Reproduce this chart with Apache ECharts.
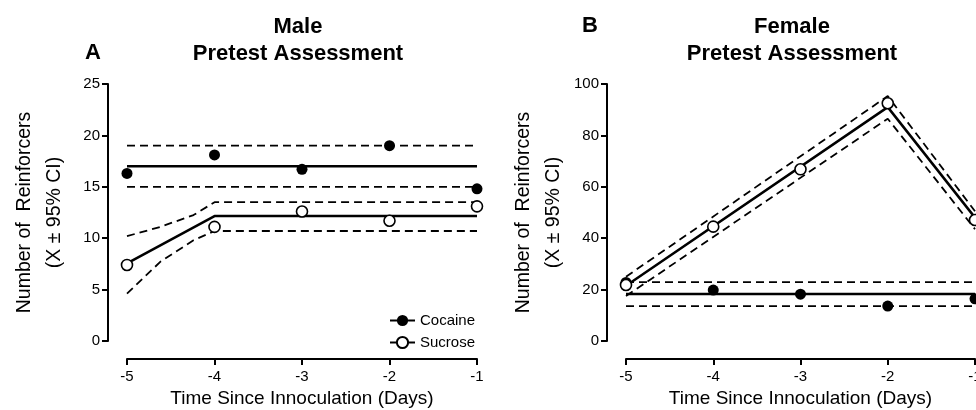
<!DOCTYPE html>
<html>
	<head>
		<meta charset="utf-8" />
		<title>Pretest Assessment</title>
		<style>
			html, body { margin: 0; padding: 0; background: #fff; }
			#chart { width: 976px; height: 410px; }
		</style>
	</head>
	<body>
		<div id="chart"></div>
		<script src="https://cdn.jsdelivr.net/npm/echarts@6/dist/echarts.min.js"></script>
		<script>
			// days before innoculation
			var days = [-5, -4, -3, -2, -1];

			// male panel (A)
			var maleCocaine = [16.3, 18.1, 16.7, 19.0, 14.8];
			var maleSucrose = [7.4, 11.1, 12.6, 11.7, 13.1];
			var maleCocaineFit = [15.0, 17.0, 19.0]; // lower, mean, upper
			var maleSucFitX = [-5, -4, -1];
			var maleSucFitY = [7.55, 12.15, 12.15];
			var maleSucHiX = [-5, -4.62, -4.24, -4, -1];
			var maleSucHiY = [10.2, 11.1, 12.25, 13.5, 13.5];
			var maleSucLoX = [-5, -4.62, -4.24, -4, -1];
			var maleSucLoY = [4.6, 7.7, 9.8, 10.7, 10.7];

			// female panel (B)
			var femCocaine = [22.8, 19.8, 18.2, 13.6, 16.4];
			var femSucrose = [21.8, 44.5, 66.8, 92.5, 47.1];
			var femCocaineFit = [13.6, 18.3, 22.9];
			var femSucFitX = [-5, -2, -1];
			var femSucFitY = [21.5, 91.0, 48.0];
			var femSucHiY = [25.0, 95.3, 50.5];
			var femSucLoY = [17.5, 86.5, 43.5];

			var font = "'Liberation Sans', Arial, sans-serif";

			function zip(xs, ys) {
				return xs.map(function (x, i) { return [x, ys[i]]; });
			}
			function flat(v) {
				return [[days[0], v], [days[days.length - 1], v]];
			}
			function dashed(g, data) {
				return { type: 'line', xAxisIndex: g, yAxisIndex: g, data: data, showSymbol: false, symbol: 'none',
					lineStyle: { color: '#000', width: 1.8, type: [8, 5] }, z: 2, silent: true, clip: false };
			}
			function solid(g, name, sym, data) {
				return { type: 'line', name: name, xAxisIndex: g, yAxisIndex: g, data: data, symbol: sym, showSymbol: false,
					itemStyle: { color: '#000', borderColor: '#000' },
					lineStyle: { color: '#000', width: 2.5 }, z: 3, silent: true, clip: false };
			}
			function dots(g, data, open) {
				return { type: 'scatter', xAxisIndex: g, yAxisIndex: g, data: data, symbol: 'circle', symbolSize: 11,
					itemStyle: open ? { color: '#fff', borderColor: '#000', borderWidth: 1.6, opacity: 1 } : { color: '#000', opacity: 1 },
					z: open ? 6 : 5, silent: true, clip: false };
			}

			function xAx(g) {
				return { type: 'value', gridIndex: g, min: -5, max: -1, interval: 1, offset: 18,
					name: 'Time Since Innoculation (Days)', nameLocation: 'middle', nameGap: 30,
					nameTextStyle: { fontFamily: font, fontSize: 19, color: '#000' },
					axisLine: { onZero: false, lineStyle: { color: '#000', width: 2 } },
					axisTick: { length: 6, lineStyle: { color: '#000', width: 2 } },
					axisLabel: { fontFamily: font, fontSize: 15, color: '#000', margin: 10 },
					splitLine: { show: false } };
			}
			function yAx(g, max, step) {
				return { type: 'value', gridIndex: g, min: 0, max: max, interval: step, offset: 19,
					name: 'Number of  Reinforcers\n(X \u00b1 95% CI)', nameLocation: 'middle', nameGap: 38,
					nameTextStyle: { fontFamily: font, fontSize: 19.5, color: '#000', lineHeight: 30 },
					axisLine: { show: true, onZero: false, lineStyle: { color: '#000', width: 2 } },
					axisTick: { show: true, length: 6, lineStyle: { color: '#000', width: 2 } },
					axisLabel: { fontFamily: font, fontSize: 15, color: '#000', margin: 8 },
					splitLine: { show: false } };
			}

			var chart = echarts.init(document.getElementById('chart'), null, { renderer: 'canvas' });

			chart.setOption({
				backgroundColor: '#fff',
				animation: false,
				grid: [
					{ left: 127, top: 84, width: 350, height: 257, outerBoundsMode: 'none' },
					{ left: 626, top: 84, width: 349, height: 257, outerBoundsMode: 'none' }
				],
				xAxis: [xAx(0), xAx(1)],
				yAxis: [yAx(0, 25, 5), yAx(1, 100, 20)],
				legend: {
					data: ['Cocaine', 'Sucrose'],
					orient: 'vertical', left: 389, top: 313, padding: 0,
					itemWidth: 25, itemHeight: 14, itemGap: 7,
					textStyle: { fontFamily: font, fontSize: 15, color: '#000' },
					selectedMode: false
				},
				graphic: [
					{ type: 'text', x: 298, y: 40, style: { text: 'Male\nPretest Assessment', align: 'center', verticalAlign: 'middle',
						font: 'bold 22px ' + font, lineHeight: 27, fill: '#000' } },
					{ type: 'text', x: 93, y: 53, style: { text: 'A', align: 'center', verticalAlign: 'middle',
						font: 'bold 22px ' + font, fill: '#000' } },
					{ type: 'text', x: 792, y: 40, style: { text: 'Female\nPretest Assessment', align: 'center', verticalAlign: 'middle',
						font: 'bold 22px ' + font, lineHeight: 27, fill: '#000' } },
					{ type: 'text', x: 590, y: 26, style: { text: 'B', align: 'center', verticalAlign: 'middle',
						font: 'bold 22px ' + font, fill: '#000' } }
				],
				series: [
					// A
					dashed(0, flat(maleCocaineFit[0])),
					dashed(0, flat(maleCocaineFit[2])),
					solid(0, 'Cocaine', 'circle', flat(maleCocaineFit[1])),
					dashed(0, zip(maleSucHiX, maleSucHiY)),
					dashed(0, zip(maleSucLoX, maleSucLoY)),
					solid(0, 'Sucrose', 'emptyCircle', zip(maleSucFitX, maleSucFitY)),
					dots(0, zip(days, maleCocaine), false),
					dots(0, zip(days, maleSucrose), true),
					// B
					dashed(1, flat(femCocaineFit[0])),
					dashed(1, flat(femCocaineFit[2])),
					solid(1, 'Cocaine', 'circle', flat(femCocaineFit[1])),
					dashed(1, zip(femSucFitX, femSucHiY)),
					dashed(1, zip(femSucFitX, femSucLoY)),
					solid(1, 'Sucrose', 'emptyCircle', zip(femSucFitX, femSucFitY)),
					dots(1, zip(days, femCocaine), false),
					dots(1, zip(days, femSucrose), true)
				]
			});
		</script>
	</body>
</html>
